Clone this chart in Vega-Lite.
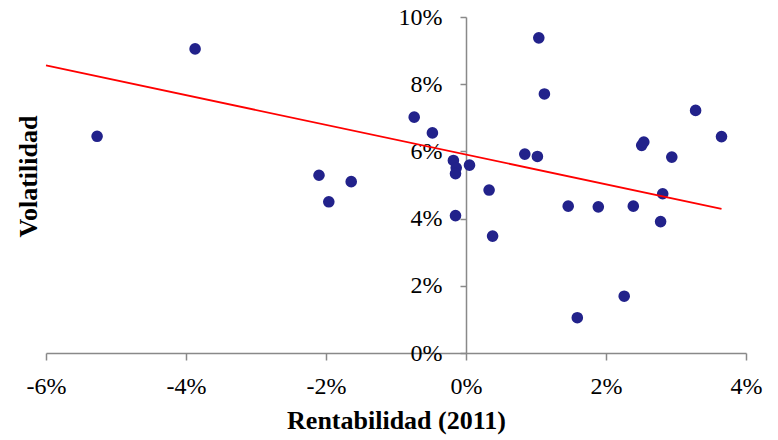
{
  "$schema": "https://vega.github.io/schema/vega-lite/v6.json",
  "width": 700,
  "height": 336,
  "autosize": {"type": "none"},
  "padding": {"left": 46, "top": 17, "right": 32, "bottom": 87},
  "config": {
    "view": {"stroke": null},
    "font": "Times New Roman, Liberation Serif, serif",
    "axis": {
      "grid": false,
      "labelFlush": false,
      "domainColor": "#898989",
      "tickColor": "#898989",
      "domainWidth": 1.5,
      "tickWidth": 1.5,
      "labelFont": "Times New Roman, Liberation Serif, serif",
      "labelFontSize": 24,
      "labelFontWeight": "normal",
      "labelColor": "#000000",
      "titleFont": "Times New Roman, Liberation Serif, serif",
      "titleFontSize": 26,
      "titleColor": "#000000",
      "titleFontWeight": "bold"
    }
  },
  "layer": [
    {
      "data": {"values": [
        {"rentabilidad": -0.0527, "volatilidad": 0.0645},
        {"rentabilidad": -0.0387, "volatilidad": 0.0905},
        {"rentabilidad": -0.0210, "volatilidad": 0.0529},
        {"rentabilidad": -0.0196, "volatilidad": 0.0450},
        {"rentabilidad": -0.0164, "volatilidad": 0.0510},
        {"rentabilidad": -0.0074, "volatilidad": 0.0702},
        {"rentabilidad": -0.0048, "volatilidad": 0.0655},
        {"rentabilidad": -0.0018, "volatilidad": 0.0573},
        {"rentabilidad": -0.0014, "volatilidad": 0.0551},
        {"rentabilidad": -0.0015, "volatilidad": 0.0534},
        {"rentabilidad": 0.0005, "volatilidad": 0.0559},
        {"rentabilidad": 0.0033, "volatilidad": 0.0485},
        {"rentabilidad": -0.0015, "volatilidad": 0.0409},
        {"rentabilidad": 0.0038, "volatilidad": 0.0348},
        {"rentabilidad": 0.0084, "volatilidad": 0.0592},
        {"rentabilidad": 0.0102, "volatilidad": 0.0585},
        {"rentabilidad": 0.0104, "volatilidad": 0.0938},
        {"rentabilidad": 0.0112, "volatilidad": 0.0771},
        {"rentabilidad": 0.0146, "volatilidad": 0.0437},
        {"rentabilidad": 0.0159, "volatilidad": 0.0105},
        {"rentabilidad": 0.0189, "volatilidad": 0.0435},
        {"rentabilidad": 0.0226, "volatilidad": 0.0169},
        {"rentabilidad": 0.0239, "volatilidad": 0.0437},
        {"rentabilidad": 0.0251, "volatilidad": 0.0618},
        {"rentabilidad": 0.0254, "volatilidad": 0.0628},
        {"rentabilidad": 0.0281, "volatilidad": 0.0474},
        {"rentabilidad": 0.0278, "volatilidad": 0.0391},
        {"rentabilidad": 0.0294, "volatilidad": 0.0583},
        {"rentabilidad": 0.0328, "volatilidad": 0.0722},
        {"rentabilidad": 0.0365, "volatilidad": 0.0644}
      ]},
      "mark": {"type": "circle", "size": 135, "opacity": 1, "color": "#22228b"},
      "encoding": {
        "x": {
          "field": "rentabilidad", "type": "quantitative",
          "scale": {"domain": [-0.06, 0.04], "nice": false, "zero": false},
          "axis": {
            "format": ".0%",
            "labelExpr": "replace(datum.label, '\u2212', '-')",
            "values": [-0.06, -0.04, -0.02, 0, 0.02, 0.04],
            "tickSize": 7,
            "labelPadding": 14,
            "title": "Rentabilidad (2011)",
            "titlePadding": 9
          }
        },
        "y": {
          "field": "volatilidad", "type": "quantitative",
          "scale": {"domain": [0, 0.1], "nice": false},
          "axis": {
            "format": ".0%",
            "values": [0, 0.02, 0.04, 0.06, 0.08, 0.1],
            "offset": -420,
            "tickSize": 6,
            "labelPadding": 18,
            "title": null
          }
        }
      }
    },
    {
      "data": {"values": [
        {"rentabilidad": -0.06, "volatilidad": 0.0856},
        {"rentabilidad": 0.0365, "volatilidad": 0.0429}
      ]},
      "mark": {"type": "line", "color": "#ff0000", "strokeWidth": 1.8},
      "encoding": {
        "x": {"field": "rentabilidad", "type": "quantitative"},
        "y": {
          "field": "volatilidad", "type": "quantitative",
          "axis": {
            "orient": "left",
            "title": "Volatilidad",
            "labels": false,
            "ticks": false,
            "domain": false,
            "titlePadding": 5,
            "titleY": 159
          }
        }
      }
    }
  ],
  "resolve": {"axis": {"y": "independent"}}
}
